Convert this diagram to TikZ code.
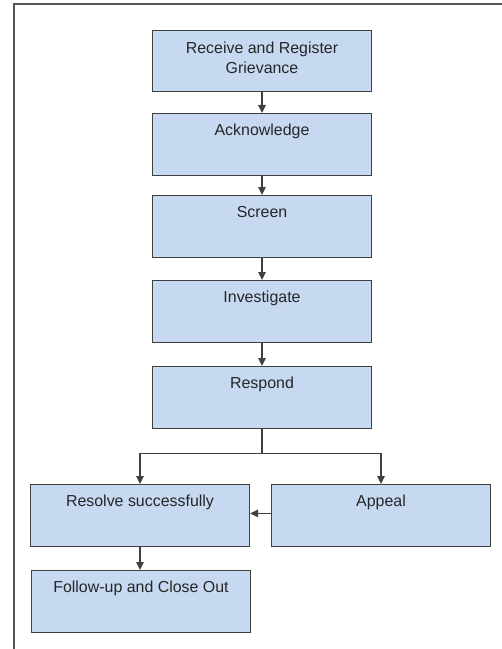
\documentclass[tikz,border=0pt]{standalone}
\usepackage{fontspec}
\setmainfont{Liberation Sans}
\usepackage{xcolor}
\usetikzlibrary{arrows.meta,positioning}
\definecolor{boxblue}{HTML}{C6D9F1}
\definecolor{boxline}{HTML}{404040}
\definecolor{frameline}{HTML}{555555}

\begin{document}
\begin{tikzpicture}[x=1bp, y=-1bp]
  % Grievance Handling Flow
  \tikzstyle{stepbox} = [rectangle, draw=boxline, line width=1.3bp, fill=boxblue, minimum width=219bp, inner sep=0pt, text height=21.5bp, text depth=40bp, anchor=north, font=\fontsize{16}{20.5}\selectfont, text=black!85, align=center]
  \tikzstyle{flow} = [line width=1.1bp, draw=boxline, -{Triangle[width=7.5bp, length=8bp]}]

  \useasboundingbox (0,0) rectangle (502,649);

  % Page frame
  \draw[frameline, line width=2.2bp] (14,649) -- (14,4) -- (502,4);

  % Main steps
  \node[stepbox, text height=43bp, text depth=18bp] (receive) at (262, 30) {Receive and Register\\Grievance};
  \node[stepbox] (acknowledge) at (262, 113) {Acknowledge};
  \node[stepbox] (screen) at (262, 195) {Screen};
  \node[stepbox] (investigate) at (262, 280) {Investigate};
  \node[stepbox] (respond) at (262, 366) {Respond};

  % Outcomes
  \node[stepbox] (resolve) at (140, 484) {Resolve successfully};
  \node[stepbox] (appeal) at (381, 484) {Appeal};
  \node[stepbox] (closeout) at (141, 570) {Follow-up and Close Out};

  % Connection Lines
  \draw[flow] (receive) -- (acknowledge);
  \draw[flow] (acknowledge) -- (screen);
  \draw[flow] (screen) -- (investigate);
  \draw[flow] (investigate) -- (respond);
  \draw[line width=1.1bp, boxline] (respond.south) -- ++(0,25) coordinate (split);
  \draw[flow] (split) -| (resolve.north);
  \draw[flow] (split) -| (appeal.north);
  \draw[flow] ([yshift=2bp]appeal.west) -- ([yshift=2bp]resolve.east);
  \draw[flow] (resolve.south) -- (resolve.south |- closeout.north);

\end{tikzpicture}
\end{document}
